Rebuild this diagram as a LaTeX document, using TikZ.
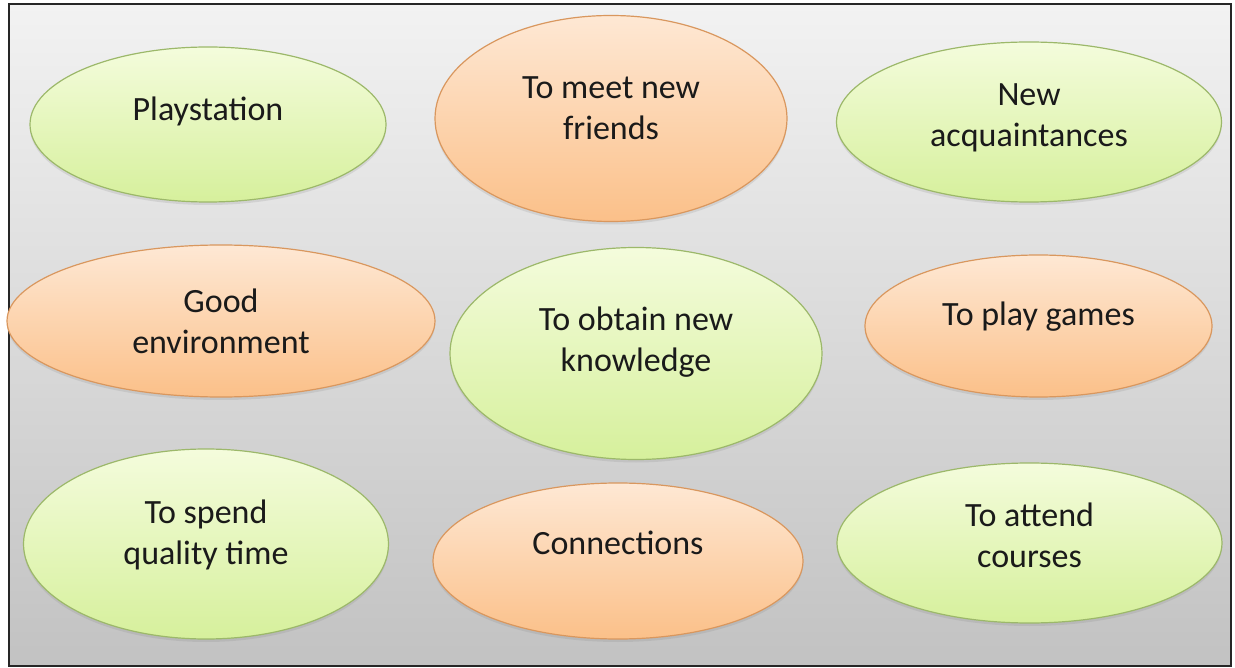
\documentclass[tikz,border=0pt]{standalone}
\usepackage{fontspec}
\setmainfont{Carlito}
\usetikzlibrary{shapes.geometric,shadows}

\definecolor{bgtop}{HTML}{F2F2F2}
\definecolor{bgbot}{HTML}{C2C2C2}
\definecolor{greentop}{HTML}{F4FCDC}
\definecolor{greenbot}{HTML}{D6F09C}
\definecolor{greenline}{HTML}{9CB86A}
\definecolor{orangetop}{HTML}{FEE8D4}
\definecolor{orangebot}{HTML}{FBC089}
\definecolor{orangeline}{HTML}{D9975E}
\definecolor{textcol}{HTML}{1A1A1A}

\tikzset{
  bubble/.style={ellipse, inner sep=0pt, line width=1.2pt,
    drop shadow={opacity=0.18, shadow xshift=0pt, shadow yshift=-3pt}},
  greenbubble/.style={bubble, draw=greenline,
    top color=greentop, bottom color=greenbot},
  orangebubble/.style={bubble, draw=orangeline,
    top color=orangetop, bottom color=orangebot},
  label/.style={anchor=base, text=textcol, inner sep=0pt,
    font=\fontsize{34}{41}\selectfont}
}

\newcommand{\twolines}[2]{\setlength{\tabcolsep}{0pt}\begin{tabular}[t]{c}#1\\#2\end{tabular}}

\begin{document}
\begin{tikzpicture}[x=1pt,y=1pt]
  \useasboundingbox (0,0) rectangle (1235,-668);
  % framed grey backdrop
  \shade[top color=bgtop, bottom color=bgbot] (9,-4) rectangle (1231,-666);
  \draw[line width=1.3pt, black!85] (9,-4) rectangle (1231,-666);

  % top row
  \node[greenbubble, minimum width=356pt, minimum height=155pt] (ps) at (208,-124.5) {};
  \node[label] (pst) at (208,-121) {Playstation};

  \node[orangebubble, minimum width=352pt, minimum height=206pt] (mf) at (611,-118.5) {};
  \node[label] (mft) at (611,-99) {\twolines{To meet new}{friends}};

  \node[greenbubble, minimum width=385pt, minimum height=160pt] (na) at (1029,-122) {};
  \node[label] (nat) at (1029,-106) {\twolines{New}{acquaintances}};

  % middle row
  \node[orangebubble, minimum width=428pt, minimum height=152pt] (ge) at (221,-321) {};
  \node[label] (get) at (221,-313) {\twolines{Good}{environment}};

  \node[greenbubble, minimum width=372pt, minimum height=212pt] (ok) at (636,-353.5) {};
  \node[label] (okt) at (636,-331) {\twolines{To obtain new}{knowledge}};

  \node[orangebubble, minimum width=347pt, minimum height=142pt] (pg) at (1038.5,-326) {};
  \node[label] (pgt) at (1038.5,-326) {To play games};

  % bottom row
  \node[greenbubble, minimum width=365pt, minimum height=190pt] (qt) at (206,-544) {};
  \node[label] (qtt) at (206,-523) {\twolines{To spend}{quality time}};

  \node[orangebubble, minimum width=370pt, minimum height=156pt] (cn) at (618,-561) {};
  \node[label] (cnt) at (618,-554) {Connections};

  \node[greenbubble, minimum width=385pt, minimum height=160pt] (ac) at (1029.5,-543) {};
  \node[label] (act) at (1029.5,-526) {\twolines{To attend}{courses}};
\end{tikzpicture}
\end{document}
